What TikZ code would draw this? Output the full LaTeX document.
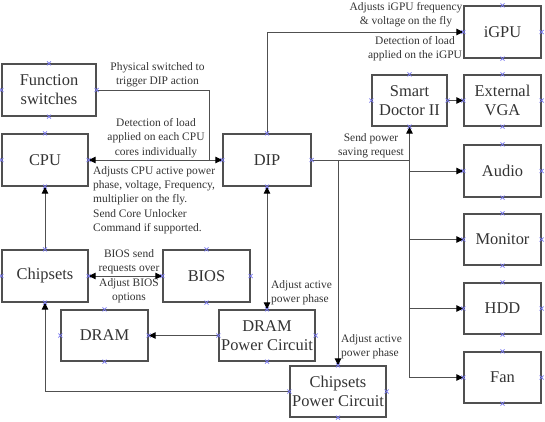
\documentclass[tikz,border=0pt]{standalone}
\usepackage{fontspec}
\setmainfont{Liberation Serif}
\usetikzlibrary{arrows.meta}
\definecolor{boxc}{HTML}{505050}
\definecolor{linec}{HTML}{505050}
\definecolor{txtc}{HTML}{333333}
\definecolor{crossc}{HTML}{7878F0}
\begin{document}
\begin{tikzpicture}[x=1bp,y=-1bp,
  box/.style={draw=boxc, line width=1.3bp, inner sep=0pt, align=center,
    font=\fontsize{16.5}{19}\selectfont, text=txtc},
  lbl/.style={font=\fontsize{11.5}{14.4}\selectfont, text=txtc, inner sep=0pt},
  conn/.style={draw=linec, line width=1bp},
  tip/.tip={Triangle[length=7bp,width=6.5bp,color=black]},
  arr/.style={conn, -tip},
  darr/.style={conn, tip-tip},
  cross/.style={draw=crossc, line width=0.7bp}]
\useasboundingbox (0,0) rectangle (545,421);
% boxes
\node[box, minimum width=94bp, minimum height=52bp] (fs) at (49,90) {Function\\switches};
\node[box, minimum width=86bp, minimum height=52bp] (cpu) at (45,160) {CPU};
\node[box, minimum width=86bp, minimum height=52bp] (chip) at (45,276) {Chipsets};
\node[box, minimum width=87bp, minimum height=52bp] (bios) at (206.5,276) {BIOS};
\node[box, minimum width=87bp, minimum height=51bp] (dram) at (104.5,335.5) {DRAM};
\node[box, minimum width=96bp, minimum height=51bp] (dpc) at (267,335.5) {DRAM\\Power Circuit};
\node[box, minimum width=96bp, minimum height=51bp] (cpc) at (338,391.5) {Chipsets\\Power Circuit};
\node[box, minimum width=88bp, minimum height=52bp] (dip) at (267,160) {DIP};
\node[box, minimum width=77bp, minimum height=52bp] (igpu) at (502.5,32) {iGPU};
\node[box, minimum width=75bp, minimum height=51bp] (sd) at (409.5,100.5) {Smart\\Doctor II};
\node[box, minimum width=77bp, minimum height=51bp] (vga) at (502.5,100.5) {External\\VGA};
\node[box, minimum width=77bp, minimum height=52bp] (audio) at (502.5,171) {Audio};
\node[box, minimum width=77bp, minimum height=51bp] (mon) at (502.5,239.5) {Monitor};
\node[box, minimum width=77bp, minimum height=51bp] (hdd) at (502.5,308.5) {HDD};
\node[box, minimum width=77bp, minimum height=51bp] (fan) at (502.5,377.5) {Fan};
% helper coordinates
\coordinate (fsturn) at (209,90);
\coordinate (fsend) at (209,160);
\coordinate (igturn) at (267,32);
\coordinate (busTop) at (409.5,160);
\coordinate (busA) at (409.5,171);
\coordinate (busM) at (409.5,239.5);
\coordinate (busH) at (409.5,308.5);
\coordinate (busF) at (409.5,377.5);
\coordinate (cpcTop) at (338,160);
\coordinate (cpcTurn) at (45,391.5);
% connectors
\draw[conn] (fs.east) -- (fsturn) -- (fsend);
\draw[darr] (cpu.east) -- (dip.west);
\draw[arr] (dip.north) -- (igturn) -- (igpu.west);
\draw[conn] (dip.east) -- (busTop);
\draw[arr] (busF) -- (sd.south);
\draw[arr] (sd.east) -- (vga.west);
\draw[arr] (busA) -- (audio.west);
\draw[arr] (busM) -- (mon.west);
\draw[arr] (busH) -- (hdd.west);
\draw[arr] (busF) -- (fan.west);
\draw[arr] (cpcTop) -- (cpc.north);
\draw[darr] (dip.south) -- (dpc.north);
\draw[arr] (dpc.west) -- (dram.east);
\draw[darr] (chip.east) -- (bios.west);
\draw[arr] (chip.north) -- (cpu.south);
\draw[arr] (cpc.west) -- (cpcTurn) -- (chip.south);
% labels
\node[lbl, align=center] (l1) at (157.5,75) {Physical switched to\\trigger DIP action};
\node[lbl, align=center] (l2) at (156,138) {Detection of load\\applied on each CPU\\cores individually};
\node[lbl, align=left, anchor=west] (l3) at (93,200) {Adjusts CPU active power\\phase, voltage, Frequency,\\multiplier on the fly.\\Send Core Unlocker\\Command if supported.};
\node[lbl, align=center] (l4) at (129,262) {BIOS send\\requests over};
\node[lbl, align=center] (l5) at (129,291) {Adjust BIOS\\options};
\node[lbl, align=left, anchor=west] (l6) at (271,292.5) {Adjust active\\power phase};
\node[lbl, align=left, anchor=west] (l7) at (341,347) {Adjust active\\power phase};
\node[lbl, align=center] (l8) at (371,146) {Send power\\saving request};
\node[lbl, align=center] (l9) at (406,15) {Adjusts iGPU frequency\\\& voltage on the fly};
\node[lbl, align=center] (l10) at (415,49) {Detection of load\\applied on the iGPU};
% connection point marks
\foreach \n in {fs,cpu,chip,bios,dram,dpc,cpc,dip,igpu,sd,vga,audio,mon,hdd,fan}
  \foreach \a in {north,south,east,west}
    \draw[cross] (\n.\a) +(-2,-2) -- +(2,2) +(-2,2) -- +(2,-2);
\end{tikzpicture}
\end{document}
